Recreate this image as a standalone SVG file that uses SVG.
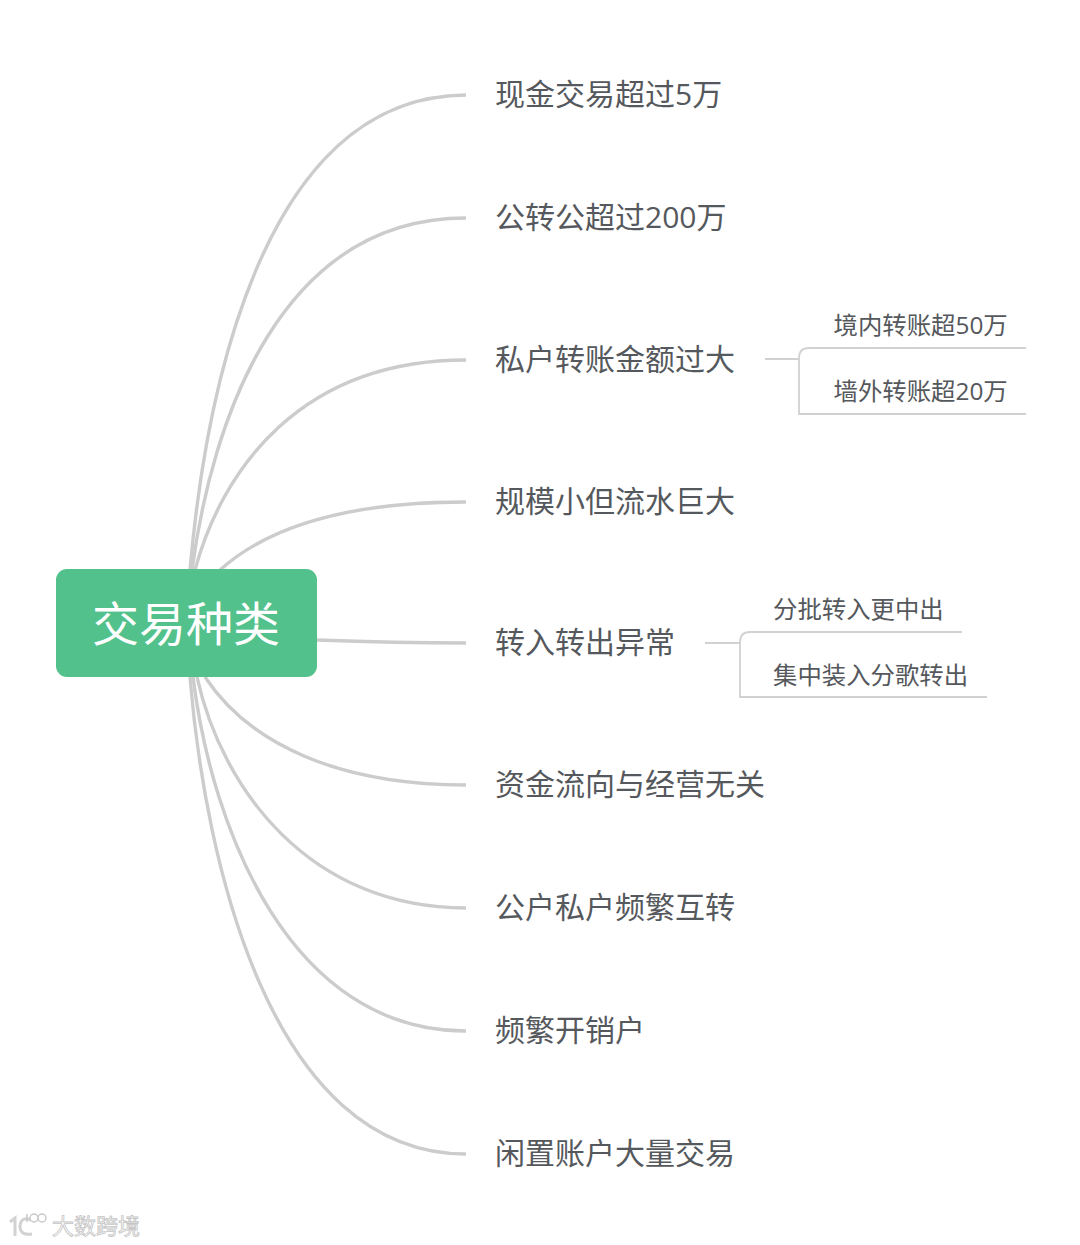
<svg xmlns="http://www.w3.org/2000/svg" width="1080" height="1245" viewBox="0 0 1080 1245">
<style>
text{font-family:"Open Sans","Noto Sans CJK SC",sans-serif;fill:#55585c}
.m{font-size:30px}
.s{font-size:24.4px}
.c{fill:none;stroke:#cccccc;stroke-width:3.4px}
.t{fill:none;stroke:#d0d2d2;stroke-width:1.8px}
</style>
<rect width="1080" height="1245" fill="#fff"/>
<g id="connectors">
<path class="c" d="M190 570C205 400 260 96 466 95"/>
<path class="c" d="M192 570C212 420 280 218 466 218"/>
<path class="c" d="M195 570C222 470 300 360 466 360"/>
<path class="c" d="M220 570C270 525 350 502 466 502"/>
<path class="c" d="M317 640C370 642 420 643 466 643"/>
<path class="c" d="M205 677C250 745 340 785 466 785"/>
<path class="c" d="M197 677C222 790 310 908 466 908"/>
<path class="c" d="M193 677C212 830 290 1031 466 1031"/>
<path class="c" d="M190 677C205 860 270 1154 466 1154"/>
<path class="t" d="M765 359H799M1026 348H809Q799 348 799 358V414H1026"/>
<path class="t" d="M705 643H740M962 632H750Q740 632 740 642V697H987"/>
</g>
<g id="root"><rect x="56" y="569" width="261" height="108" rx="11" fill="#52c18c"/><text x="186" y="641" font-size="47" text-anchor="middle" style="fill:#fff">交易种类</text></g>
<g id="n1"><text class="m" x="495" y="105">现金交易超过5万</text></g>
<g id="n2"><text class="m" x="495" y="228">公转公超过200万</text></g>
<g id="n3"><text class="m" x="495" y="370">私户转账金额过大</text></g>
<g id="n3a"><text class="s" x="833.500" y="334">境内转账超50万</text></g>
<g id="n3b"><text class="s" x="833.500" y="399.500">墙外转账超20万</text></g>
<g id="n4"><text class="m" x="495" y="512">规模小但流水巨大</text></g>
<g id="n5"><text class="m" x="495" y="653">转入转出异常</text></g>
<g id="n5a"><text class="s" x="773" y="618">分批转入更中出</text></g>
<g id="n5b"><text class="s" x="773" y="683.500">集中装入分歌转出</text></g>
<g id="n6"><text class="m" x="495" y="795">资金流向与经营无关</text></g>
<g id="n7"><text class="m" x="495" y="918">公户私户频繁互转</text></g>
<g id="n8"><text class="m" x="495" y="1041">频繁开销户</text></g>
<g id="n9"><text class="m" x="495" y="1164">闲置账户大量交易</text></g>
<g id="watermark">
<path d="M10 1222L15 1218V1236M31 1220Q21 1216 20 1226Q20 1236 32 1234" fill="none" stroke="#d2d2d2" stroke-width="3"/>
<path d="M27 1214V1222" fill="none" stroke="#c9c9c9" stroke-width="1.500"/>
<circle cx="34" cy="1218" r="4" fill="#fff" stroke="#c9c9c9" stroke-width="1.500"/>
<circle cx="42" cy="1218" r="4" fill="#fff" stroke="#c9c9c9" stroke-width="1.500"/>
<text x="52" y="1234" font-size="22" style="fill:#fff;stroke:#c4c4c4;stroke-width:.8px">大数跨境</text>
</g>
</svg>
